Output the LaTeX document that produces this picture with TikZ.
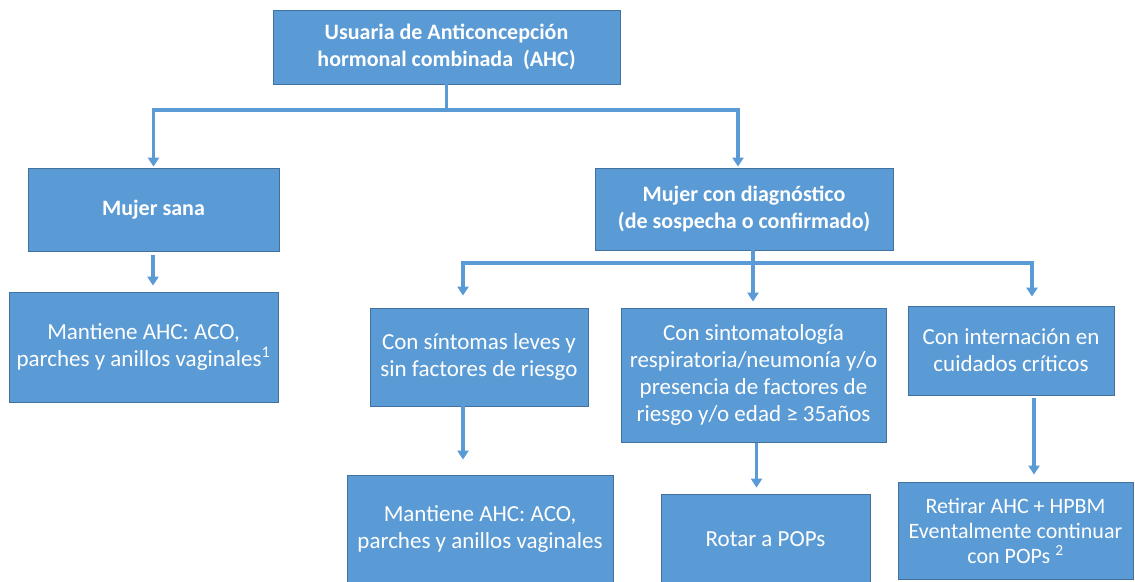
\documentclass[tikz,border=0pt]{standalone}
\usepackage{fontspec}
\setmainfont{Carlito}
\usetikzlibrary{arrows.meta}
\definecolor{boxfill}{HTML}{5B9BD5}
\definecolor{boxline}{HTML}{41719C}
\definecolor{conn}{HTML}{5B9BD5}
\tikzset{
  box/.style={draw=boxline, line width=0.8pt, fill=boxfill, text=white, align=center, inner sep=0pt,
              font=\fontsize{23}{27}\selectfont},
  boldbox/.style={box, font=\fontsize{22}{27}\selectfont\bfseries},
  conline/.style={draw=conn, line width=3.2pt},
  arr/.style={conline, -{Triangle[width=11pt,length=9pt]}},
}
\begin{document}
\begin{tikzpicture}[x=1pt,y=-1pt]
\useasboundingbox (0,0) rectangle (1135,581);
% nodes
\node[boldbox, minimum width=347pt, minimum height=74pt] (top) at (446.5,47) {Usuaria de Anticoncepción\\hormonal combinada~~(AHC)};
\node[boldbox, minimum width=251pt, minimum height=83pt] (sana) at (153.5,209.5) {Mujer sana};
\node[box, minimum width=269pt, minimum height=110pt] (mant1) at (143.5,347) {Mantiene AHC: ACO,\\parches y anillos vaginales\textsuperscript{1}};
\node[boldbox, minimum width=298pt, minimum height=82pt] (diag) at (744,209) {Mujer con diagnóstico\\(de sospecha o confirmado)};
\node[box, minimum width=218pt, minimum height=98pt] (sint) at (479,357) {Con síntomas leves y\\sin factores de riesgo};
\node[box, minimum width=265pt, minimum height=134pt] (mid) at (753.5,375) {Con sintomatología\\respiratoria/neumonía y/o\\presencia de factores de\\riesgo y/o edad ≥ 35años};
\node[box, minimum width=206pt, minimum height=89pt] (intern) at (1011,350.5) {Con internación en\\cuidados críticos};
\node[box, minimum width=266pt, minimum height=108pt] (mant2) at (480,529) {Mantiene AHC: ACO,\\parches y anillos vaginales};
\node[box, minimum width=209pt, minimum height=90pt] (rot) at (765.5,539) {Rotar a POPs};
\node[box, minimum width=235pt, minimum height=97pt, font=\fontsize{22}{25}\selectfont] (ret) at (1015.5,530.5) {Retirar AHC + HPBM\\Eventalmente continuar\\con POPs \textsuperscript{2}};
% junctions
\coordinate (j1) at (446.5,110);
\coordinate (j2) at (753,263);
% connectors
\draw[conline] (top.south) -- (j1);
\draw[arr, shorten >=1pt] (j1) -| (sana.north);
\draw[arr, shorten >=1pt] (j1) -| ([xshift=-6pt]diag.north);
\draw[arr, shorten <=4pt, shorten >=6pt] ([xshift=-0.5pt]sana.south) -- ([xshift=-0.5pt]sana.south |- mant1.north);
\draw[conline] ([xshift=9pt]diag.south) -- (j2);
\draw[arr, shorten >=12pt] (j2) -| ([xshift=-16pt]sint.north);
\draw[arr, shorten >=6pt] (j2) -- (j2 |- mid.north);
\draw[arr, shorten >=9pt] (j2) -| ([xshift=21pt]intern.north);
\draw[arr, shorten >=15pt] ([xshift=-16pt]sint.south) -- ([xshift=-16pt]sint.south |- mant2.north);
\draw[arr, shorten <=1pt, shorten >=6pt] ([xshift=3pt]mid.south) -- ([xshift=3pt]mid.south |- rot.north);
\draw[arr, shorten <=3pt, shorten >=7pt] ([xshift=23pt]intern.south) -- ([xshift=23pt]intern.south |- ret.north);
\end{tikzpicture}
\end{document}
